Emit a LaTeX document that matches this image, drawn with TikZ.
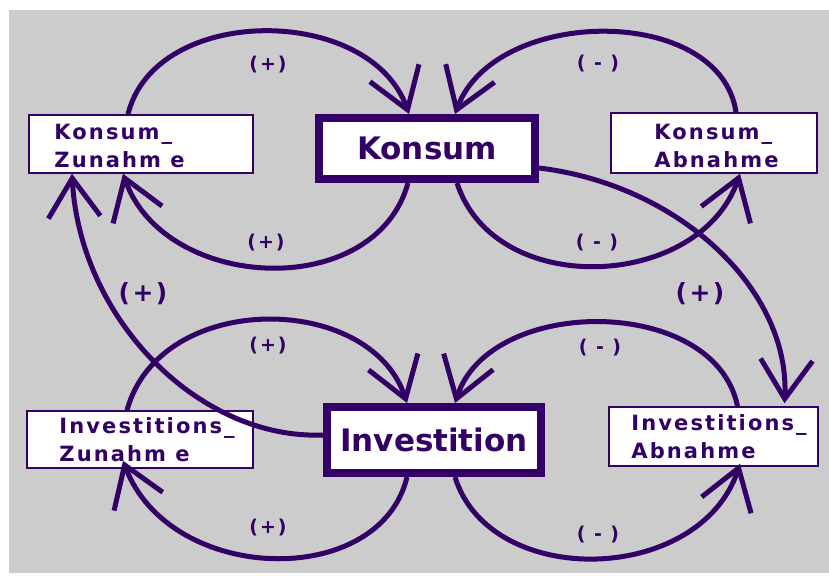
\documentclass[tikz,border=0pt]{standalone}
\usepackage{fontspec}
\setmainfont{DejaVu Sans}
\newfontfamily\boxfont[LetterSpace=10]{DejaVu Sans}
\usetikzlibrary{arrows.meta}
\definecolor{ink}{HTML}{330066}
\definecolor{panel}{HTML}{CCCCCC}

\begin{document}
\begin{tikzpicture}[x=1pt,y=-1pt,
  link/.style={draw=ink, line width=5pt, -{Straight Barb[length=39pt,width=52pt]}},
  smallbox/.style={draw=ink, fill=white, line width=1.5pt, inner sep=0pt},
  bigbox/.style={draw=ink, fill=white, line width=8pt, inner sep=0pt, text=ink,
    font=\bfseries\fontsize{31}{36}\selectfont},
  boxtext/.style={anchor=base west, align=left, inner sep=0pt, text=ink,
    font=\boxfont\bfseries\fontsize{21}{28}\selectfont},
  sign/.style={text=ink, inner sep=0pt, font=\boxfont\bfseries\fontsize{19}{22}\selectfont},
  bigsign/.style={text=ink, inner sep=0pt, font=\boxfont\bfseries\fontsize{25}{28}\selectfont}]

\useasboundingbox (0,0) rectangle (829,575);
\fill[panel] (9,10) rectangle (829,573);

% boxes
\node[smallbox, minimum width=224pt, minimum height=58pt] (kz) at (141,144) {};
\node[smallbox, minimum width=206pt, minimum height=60pt] (ka) at (714,143) {};
\node[smallbox, minimum width=226pt, minimum height=57pt] (iz) at (140,439.5) {};
\node[smallbox, minimum width=209pt, minimum height=59pt] (ia) at (713.5,436.5) {};
\node[bigbox, minimum width=216pt, minimum height=61pt] (ko) at (427,148.5) {Konsum};
\node[bigbox, minimum width=214pt, minimum height=66pt] (inv) at (434,440) {Investition};

% box captions (anchored on the baseline of the second line)
\node[boxtext] (kzt) at ([xshift=26pt,yshift=-23pt]kz.west) {Konsum\_\\Zunahm e};
\node[boxtext] (kat) at ([xshift=44pt,yshift=-24pt]ka.west) {Konsum\_\\Abnahme};
\node[boxtext] (izt) at ([xshift=33pt,yshift=-22pt]iz.west) {Investitions\_\\Zunahm e};
\node[boxtext] (iat) at ([xshift=23pt,yshift=-21.5pt]ia.west) {Investitions\_\\Abnahme};

% Konsum loops
\draw[link] ([xshift=-13pt]kz.north) .. controls (155,4) and (370,4) .. ([xshift=-18pt]ko.north);
\draw[link] ([xshift=22pt]ka.north) .. controls (720,4) and (495,6) .. ([xshift=28pt]ko.north);
\draw[link] ([xshift=-19pt]ko.south) .. controls (375,302) and (165,292) .. ([xshift=-18pt]kz.south);
\draw[link] ([xshift=30pt]ko.south) .. controls (495,300) and (700,290) .. ([xshift=26pt]ka.south);

% cross links
\draw[link] ([yshift=-19.5pt]ko.east) .. controls (680,185) and (790,290) .. ([xshift=71pt,yshift=3pt]ia.north);
\draw[link] ([yshift=5pt]inv.west) .. controls (200,440) and (80,320) .. ([xshift=-69pt]kz.south);

% Investition loops
\draw[link] ([xshift=-13pt]iz.north) .. controls (160,290) and (370,292) .. ([xshift=-27pt]inv.north);
\draw[link] ([xshift=24pt]ia.north) .. controls (715,295) and (490,295) .. ([xshift=21pt]inv.north);
\draw[link] ([xshift=-27pt]inv.south) .. controls (380,590) and (170,585) .. ([xshift=-17pt,yshift=8pt]iz.south);
\draw[link] ([xshift=21pt]inv.south) .. controls (490,590) and (700,585) .. ([xshift=26.5pt,yshift=3pt]ia.south);

% polarity signs
\node[sign] (s1) at (268,65) {(+)};
\node[sign] (s2) at (598,64) {( - )};
\node[sign] (s3) at (266,243) {(+)};
\node[sign] (s4) at (597,243) {( - )};
\node[bigsign] (s5) at (143,294) {(+)};
\node[bigsign] (s6) at (700,294) {(+)};
\node[sign] (s7) at (268,346) {(+)};
\node[sign] (s8) at (600,348) {( - )};
\node[sign] (s9) at (268,528) {(+)};
\node[sign] (s10) at (598,535) {( - )};
\end{tikzpicture}
\end{document}
